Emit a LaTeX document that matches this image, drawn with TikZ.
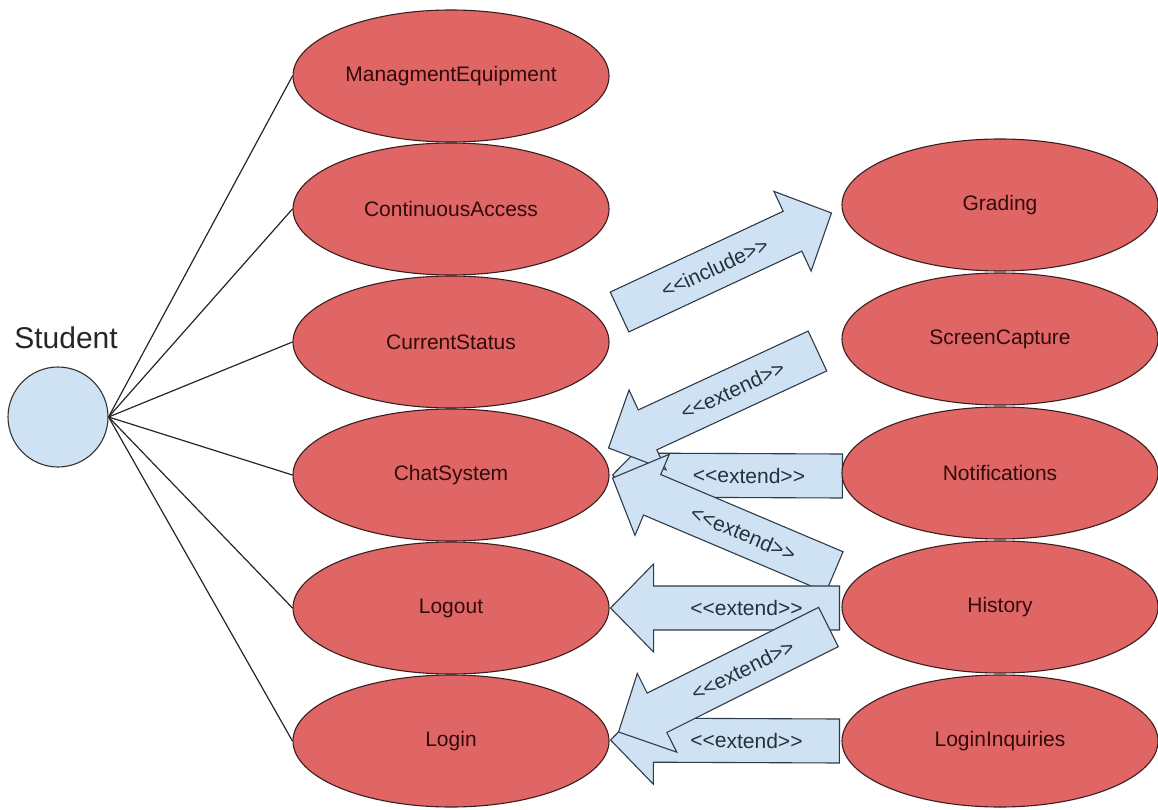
\documentclass[tikz,border=0pt]{standalone}
\usepackage{fontspec}
\setmainfont{Liberation Sans}
\newfontfamily\arfont{Liberation Sans}
\usetikzlibrary{shapes.geometric,calc,backgrounds}
\definecolor{ucfill}{HTML}{E06666}
\definecolor{ucline}{HTML}{3A1E1E}
\definecolor{uctext}{HTML}{330A0A}
\definecolor{arfill}{HTML}{CFE2F3}
\definecolor{arline}{HTML}{2E3B48}
\definecolor{artext}{HTML}{27313C}
\tikzset{
  uc/.style={ellipse, draw=ucline, fill=ucfill, line width=1.1pt,
    minimum width=316pt, minimum height=132pt, inner sep=0pt,
    font=\arfont\fontsize{21}{25}\selectfont, text=uctext},
  actorshape/.style={circle, draw=black!80, fill=arfill, line width=1.1pt,
    minimum size=100pt, inner sep=0pt},
  assoc/.style={draw=black!85, line width=1.2pt},
  blockarrow/.style={draw=arline, fill=arfill, line width=1.1pt, line join=miter},
  arlabel/.style={font=\arfont\fontsize{21}{25}\selectfont, text=artext, sloped, inner sep=0pt}
}
% #1 label position, #2 tail coordinate, #3 tip coordinate, #4 label
\newcommand\blockarr[4][0.5]{%
  \coordinate (bh) at ($(#3)!43pt!(#2)$);
  \draw[blockarrow] ($(#2)!22pt!90:(#3)$) -- ($(bh)!22pt!90:(#3)$)
    -- ($(bh)!44pt!90:(#3)$) -- (#3) -- ($(bh)!44pt!-90:(#3)$)
    -- ($(bh)!22pt!-90:(#3)$) -- ($(#2)!22pt!-90:(#3)$) -- cycle;
  \path (#2) -- (bh) node[arlabel, pos=#1] {#4};
}
\begin{document}
\begin{tikzpicture}[x=1pt,y=-1pt]
\useasboundingbox (0,0) rectangle (1158,810);

% actor
\node[actorshape] (student) at (58,417) {};
\node[font=\arfont\fontsize{30}{36}\selectfont, text=black!85] (studentlbl) at (66,338) {Student};

% left use cases
\node[uc] (me)     at (451,76)  {ManagmentEquipment};
\node[uc] (ca)     at (451,209) {ContinuousAccess};
\node[uc] (cs)     at (451,342) {CurrentStatus};
\node[uc] (chat)   at (451,475) {ChatSystem};
\node[uc] (logout) at (451,608) {Logout};
\node[uc] (login)  at (451,741) {Login};

% right use cases
\node[uc] (grading) at (1000,205) {Grading};
\node[uc] (sc)      at (1000,339) {ScreenCapture};
\node[uc] (notif)   at (1000,473) {Notifications};
\node[uc] (hist)    at (1000,607) {History};
\node[uc] (li)      at (1000,741) {LoginInquiries};

% associations
\foreach \u in {me,ca,cs,chat,logout,login}
  \draw[assoc] (student.east) -- (\u.west);

% block arrows (behind the ellipses)
\begin{pgfonlayer}{background}
  \coordinate (a1t) at ($(cs.east)+(10,-30)$);
  \coordinate (a1h) at ($(grading.west)+(-10,8)$);
  \coordinate (a2t) at ($(sc.west)+(-24,12)$);
  \coordinate (a2h) at ($(chat.east)+(-1,-27)$);
  \coordinate (a3t) at ($(notif.west)+(1,3)$);
  \coordinate (a3h) at ($(chat.east)+(3,0)$);
  \coordinate (a4t) at ($(hist.west)+(-7,-35)$);
  \coordinate (a4h) at ($(chat.east)+(3,3)$);
  \coordinate (a5t) at ($(hist.west)+(-2,1)$);
  \coordinate (a5h) at ($(logout.east)+(1,0)$);
  \coordinate (a6t) at ($(hist.west)+(-13,20)$);
  \coordinate (a6h) at ($(login.east)+(9,-9)$);
  \coordinate (a7t) at ($(li.west)+(-2,0)$);
  \coordinate (a7h) at ($(login.east)+(1,-1)$);
  \blockarr[0.55]{a1t}{a1h}{<<include>>}
  \blockarr{a3t}{a3h}{<<extend>>}
  \blockarr{a2t}{a2h}{<<extend>>}
  \blockarr{a4t}{a4h}{<<extend>>}
  \blockarr{a7t}{a7h}{<<extend>>}
  \blockarr{a5t}{a5h}{<<extend>>}
  \blockarr{a6t}{a6h}{<<extend>>}
\end{pgfonlayer}
\end{tikzpicture}
\end{document}
